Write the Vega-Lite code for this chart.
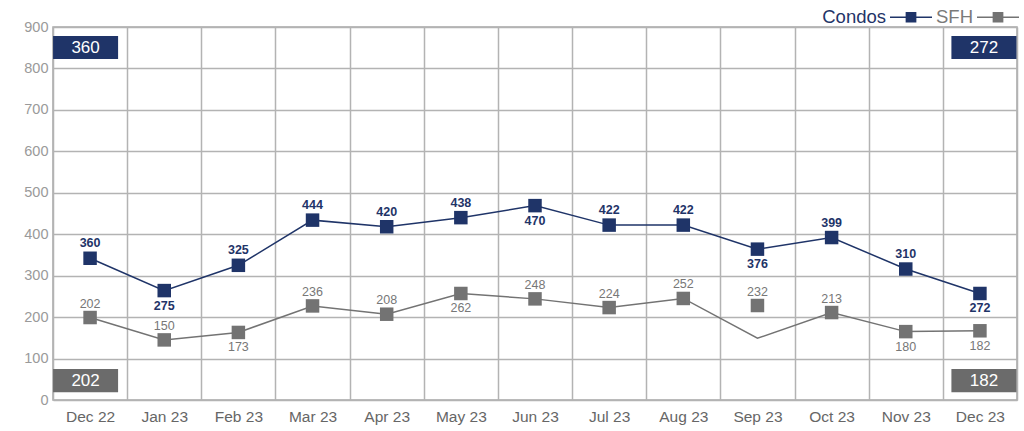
{
  "$schema": "https://vega.github.io/schema/vega-lite/v6.json",
  "width": 964,
  "height": 373,
  "autosize": {"type": "none"},
  "padding": {"left": 53, "top": 27, "right": 7, "bottom": 31},
  "background": "white",
  "config": {
    "font": "Liberation Sans",
    "view": {"stroke": "#a8a8a8", "strokeWidth": 1.5}
  },
  "datasets": {
    "series": [
      {"month": "Dec 22", "series": "Condos", "value": 342, "lineValue": 342, "label": "360", "pos": "above"},
      {"month": "Jan 23", "series": "Condos", "value": 264, "lineValue": 264, "label": "275", "pos": "below"},
      {"month": "Feb 23", "series": "Condos", "value": 325, "lineValue": 325, "label": "325", "pos": "above"},
      {"month": "Mar 23", "series": "Condos", "value": 434, "lineValue": 434, "label": "444", "pos": "above"},
      {"month": "Apr 23", "series": "Condos", "value": 418, "lineValue": 418, "label": "420", "pos": "above"},
      {"month": "May 23", "series": "Condos", "value": 440, "lineValue": 440, "label": "438", "pos": "above"},
      {"month": "Jun 23", "series": "Condos", "value": 469, "lineValue": 469, "label": "470", "pos": "below"},
      {"month": "Jul 23", "series": "Condos", "value": 422, "lineValue": 422, "label": "422", "pos": "above"},
      {"month": "Aug 23", "series": "Condos", "value": 422, "lineValue": 422, "label": "422", "pos": "above"},
      {"month": "Sep 23", "series": "Condos", "value": 364, "lineValue": 364, "label": "376", "pos": "below"},
      {"month": "Oct 23", "series": "Condos", "value": 392, "lineValue": 392, "label": "399", "pos": "above"},
      {"month": "Nov 23", "series": "Condos", "value": 316, "lineValue": 316, "label": "310", "pos": "above"},
      {"month": "Dec 23", "series": "Condos", "value": 257, "lineValue": 257, "label": "272", "pos": "below"},
      {"month": "Dec 22", "series": "SFH", "value": 199, "lineValue": 199, "label": "202", "pos": "above"},
      {"month": "Jan 23", "series": "SFH", "value": 145, "lineValue": 145, "label": "150", "pos": "above"},
      {"month": "Feb 23", "series": "SFH", "value": 163, "lineValue": 163, "label": "173", "pos": "below"},
      {"month": "Mar 23", "series": "SFH", "value": 227, "lineValue": 227, "label": "236", "pos": "above"},
      {"month": "Apr 23", "series": "SFH", "value": 207, "lineValue": 207, "label": "208", "pos": "above"},
      {"month": "May 23", "series": "SFH", "value": 257, "lineValue": 257, "label": "262", "pos": "below"},
      {"month": "Jun 23", "series": "SFH", "value": 244, "lineValue": 244, "label": "248", "pos": "above"},
      {"month": "Jul 23", "series": "SFH", "value": 223, "lineValue": 223, "label": "224", "pos": "above"},
      {"month": "Aug 23", "series": "SFH", "value": 245, "lineValue": 245, "label": "252", "pos": "above"},
      {"month": "Sep 23", "series": "SFH", "value": 228, "lineValue": 149, "label": "232", "pos": "above"},
      {"month": "Oct 23", "series": "SFH", "value": 211, "lineValue": 211, "label": "213", "pos": "above"},
      {"month": "Nov 23", "series": "SFH", "value": 165, "lineValue": 165, "label": "180", "pos": "below"},
      {"month": "Dec 23", "series": "SFH", "value": 167, "lineValue": 167, "label": "182", "pos": "below"}
    ],
    "boxes": [
      {"month": "Dec 22", "series": "Condos", "label": "360"},
      {"month": "Dec 23", "series": "Condos", "label": "272"},
      {"month": "Dec 22", "series": "SFH", "label": "202"},
      {"month": "Dec 23", "series": "SFH", "label": "182"}
    ]
  },
  "encoding": {
    "x": {
      "field": "month",
      "type": "ordinal",
      "scale": {
        "domain": ["Dec 22", "Jan 23", "Feb 23", "Mar 23", "Apr 23", "May 23", "Jun 23", "Jul 23", "Aug 23", "Sep 23", "Oct 23", "Nov 23", "Dec 23"],
        "paddingInner": 0,
        "paddingOuter": 0
      },
      "axis": {
        "title": null,
        "labelAngle": 0,
        "tickBand": "extent",
        "grid": true,
        "gridColor": "#b3b3b3",
        "gridWidth": 1.5,
        "domain": false,
        "ticks": false,
        "labelFontSize": 15.5,
        "labelColor": "#666666",
        "labelPadding": 9
      }
    }
  },
  "layer": [
    {
      "data": {"name": "series"},
      "mark": {"type": "line", "strokeWidth": 1.5},
      "encoding": {
        "y": {
          "field": "lineValue",
          "type": "quantitative",
          "scale": {"domain": [0, 900]},
          "axis": {
            "title": null,
            "values": [0, 100, 200, 300, 400, 500, 600, 700, 800, 900],
            "grid": true,
            "gridColor": "#b3b3b3",
            "gridWidth": 1.5,
            "ticks": false,
            "domain": false,
            "labelFontSize": 14.5,
            "labelColor": "#9a9a9a",
            "labelPadding": 5
          }
        },
        "color": {
          "field": "series",
          "type": "nominal",
          "scale": {"domain": ["Condos", "SFH"], "range": ["#1f3468", "#737373"]},
          "legend": {
            "orient": "none",
            "legendX": 836,
            "legendY": -32,
            "direction": "horizontal",
            "title": null,
            "labelAlign": "right",
            "labelOffset": -47,
            "labelFontSize": 18.5,
            "columnPadding": 1,
            "symbolType": "M-1,0H1M-0.22,-0.22H0.22V0.22H-0.22Z",
            "symbolSize": 1764,
            "symbolStrokeWidth": 1.5,
            "encode": {
              "labels": {"update": {"fill": {"signal": "datum.value === 'Condos' ? '#1f3468' : '#7a7a7a'"}}},
              "symbols": {"update": {
                "fill": {"signal": "datum.value === 'Condos' ? '#1f3468' : '#737373'"},
                "stroke": {"signal": "datum.value === 'Condos' ? '#1f3468' : '#737373'"},
                "opacity": {"value": 1}
              }}
            }
          }
        },
        "detail": {"field": "series"}
      }
    },
    {
      "data": {"name": "series"},
      "mark": {"type": "point", "shape": "square", "filled": true, "size": 182, "opacity": 1},
      "encoding": {
        "y": {"field": "value", "type": "quantitative"},
        "color": {"field": "series", "type": "nominal"}
      }
    },
    {
      "data": {"name": "series"},
      "transform": [{"filter": "datum.series === 'Condos' && datum.pos === 'above'"}],
      "mark": {"type": "text", "dy": -15, "fontSize": 12.5, "fontWeight": "bold", "color": "#1f3468"},
      "encoding": {"y": {"field": "value", "type": "quantitative"}, "text": {"field": "label"}}
    },
    {
      "data": {"name": "series"},
      "transform": [{"filter": "datum.series === 'Condos' && datum.pos === 'below'"}],
      "mark": {"type": "text", "dy": 15, "fontSize": 12.5, "fontWeight": "bold", "color": "#1f3468"},
      "encoding": {"y": {"field": "value", "type": "quantitative"}, "text": {"field": "label"}}
    },
    {
      "data": {"name": "series"},
      "transform": [{"filter": "datum.series === 'SFH' && datum.pos === 'above'"}],
      "mark": {"type": "text", "dy": -14, "fontSize": 12.5, "color": "#777777"},
      "encoding": {"y": {"field": "value", "type": "quantitative"}, "text": {"field": "label"}}
    },
    {
      "data": {"name": "series"},
      "transform": [{"filter": "datum.series === 'SFH' && datum.pos === 'below'"}],
      "mark": {"type": "text", "dy": 15, "fontSize": 12.5, "color": "#777777"},
      "encoding": {"y": {"field": "value", "type": "quantitative"}, "text": {"field": "label"}}
    },
    {
      "data": {"name": "boxes"},
      "transform": [{"filter": "datum.series === 'Condos'"}],
      "mark": {"type": "bar", "width": {"band": 0.877}, "color": "#1f3468", "xOffset": {"expr": "datum.month === 'Dec 22' ? -4.5 : 4"}},
      "encoding": {"y": {"datum": 823}, "y2": {"datum": 878}}
    },
    {
      "data": {"name": "boxes"},
      "transform": [{"filter": "datum.series === 'SFH'"}],
      "mark": {"type": "bar", "width": {"band": 0.877}, "color": "#6b6b6b", "xOffset": {"expr": "datum.month === 'Dec 22' ? -4.5 : 4"}},
      "encoding": {"y": {"datum": 19}, "y2": {"datum": 75}}
    },
    {
      "data": {"name": "boxes"},
      "transform": [{"filter": "datum.series === 'Condos'"}],
      "mark": {"type": "text", "fontSize": 17, "color": "white", "baseline": "middle", "xOffset": {"expr": "datum.month === 'Dec 22' ? -4.5 : 4"}},
      "encoding": {"y": {"datum": 850.5}, "text": {"field": "label"}}
    },
    {
      "data": {"name": "boxes"},
      "transform": [{"filter": "datum.series === 'SFH'"}],
      "mark": {"type": "text", "fontSize": 17, "color": "white", "baseline": "middle", "xOffset": {"expr": "datum.month === 'Dec 22' ? -4.5 : 4"}},
      "encoding": {"y": {"datum": 47}, "text": {"field": "label"}}
    }
  ]
}
